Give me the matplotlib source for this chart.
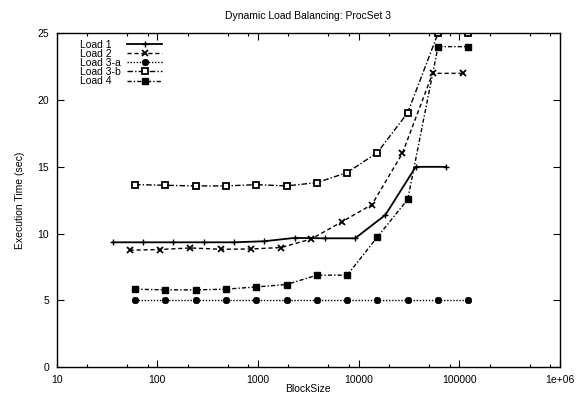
import matplotlib
matplotlib.use('Agg')
import matplotlib.pyplot as plt
import numpy as np
from matplotlib.ticker import FixedLocator, NullFormatter
from matplotlib.lines import Line2D

# Data
bs_load1 = [36, 72, 144, 288, 576, 1152, 2304, 4608, 9216, 18432, 36864, 73728]
t_load1 = [9.35, 9.35, 9.35, 9.35, 9.35, 9.43, 9.68, 9.65, 9.65, 11.4, 15.0, 15.0]

bs_load2 = [53, 106, 212, 424, 848, 1696, 3392, 6784, 13568, 27136, 54272, 108544]
t_load2 = [8.76, 8.81, 8.93, 8.83, 8.85, 8.96, 9.6, 10.88, 12.18, 16.0, 22.0, 22.0]

bs_std = [60, 120, 240, 480, 960, 1920, 3840, 7680, 15360, 30720, 61440, 122880]
t_load3a = [5.0, 5.0, 5.0, 5.0, 5.0, 5.0, 5.0, 5.0, 5.0, 5.0, 5.0, 5.0]
t_load3b = [13.67, 13.62, 13.57, 13.57, 13.67, 13.57, 13.82, 14.57, 16.07, 19.06, 25.0, 25.0]
t_load4 = [5.84, 5.79, 5.79, 5.84, 6.01, 6.19, 6.89, 6.89, 9.75, 12.57, 24.0, 24.0]

labels = ['Load 1', 'Load 2', 'Load 3-a', 'Load 3-b', 'Load 4']

plt.rcParams['font.family'] = ['Liberation Sans', 'DejaVu Sans']
plt.rcParams['font.size'] = 7.5

fig = plt.figure(figsize=(5.86, 4.01), dpi=100)
ax = fig.add_axes([0.0968, 0.0843, 0.8588, 0.8327])

lines = []
lines += ax.plot(bs_load1, t_load1, color='black', lw=1.3, ls='-', marker='+',
                 ms=5, mew=1.0)
lines += ax.plot(bs_load2, t_load2, color='black', lw=1.0, ls=(0, (3, 2)), marker='x',
                 ms=4.5, mew=1.3)
lines += ax.plot(bs_std, t_load3a, color='black', lw=1.0, ls=(0, (1, 1.2)), marker=(8, 2, 0),
                 ms=5, mew=1.3)
lines += ax.plot(bs_std, t_load3b, color='black', lw=1.0, ls=(0, (4, 1.5, 1, 1.5)), marker='s',
                 ms=4.3, mew=1.3, mfc='white')
lines += ax.plot(bs_std, t_load4, color='black', lw=1.0, ls=(0, (3, 1.5, 1, 1.5)), marker='s',
                 ms=4.5)

ax.set_xscale('log')
ax.set_xlim(10, 1e6)
ax.set_ylim(0, 25)

xt = [10, 100, 1000, 10000, 100000, 1000000]
ax.xaxis.set_major_locator(FixedLocator(xt))
ax.set_xticklabels(['10', '100', '1000', '10000', '100000', '1e+06'])
minor = [m * d for d in [10, 100, 1000, 10000, 100000] for m in (2, 5, 8)]
ax.xaxis.set_minor_locator(FixedLocator(minor))
ax.xaxis.set_minor_formatter(NullFormatter())
ax.set_yticks([0, 5, 10, 15, 20, 25])

ax.tick_params(which='both', direction='in', top=True, right=True, width=0.8)
ax.tick_params(which='major', length=5, pad=5.5)
ax.tick_params(which='minor', length=2.5)
for s in ax.spines.values():
    s.set_linewidth(1.0)

ax.set_title('Dynamic Load Balancing: ProcSet 3', fontsize=7.5, pad=10)
ax.set_xlabel('BlockSize', labelpad=-0.5)
ax.set_ylabel('Execution Time (sec)', labelpad=9)

# gnuplot-style key: left-aligned labels, samples to the right
leg_opts = dict(loc='upper left', frameon=False, labelspacing=-0.09,
                handleheight=0.5, borderpad=0, borderaxespad=0)
blank = [Line2D([], [], lw=0) for _ in labels]
leg1 = ax.legend(blank, labels, bbox_to_anchor=(0.0463, 0.981),
                 handlelength=0, handletextpad=0, **leg_opts)
ax.add_artist(leg1)
ax.legend(lines, [' '] * len(lines), bbox_to_anchor=(0.1397, 0.981),
          handlelength=3.4, handletextpad=0, **leg_opts)

fig.savefig('out.png', dpi=100)
